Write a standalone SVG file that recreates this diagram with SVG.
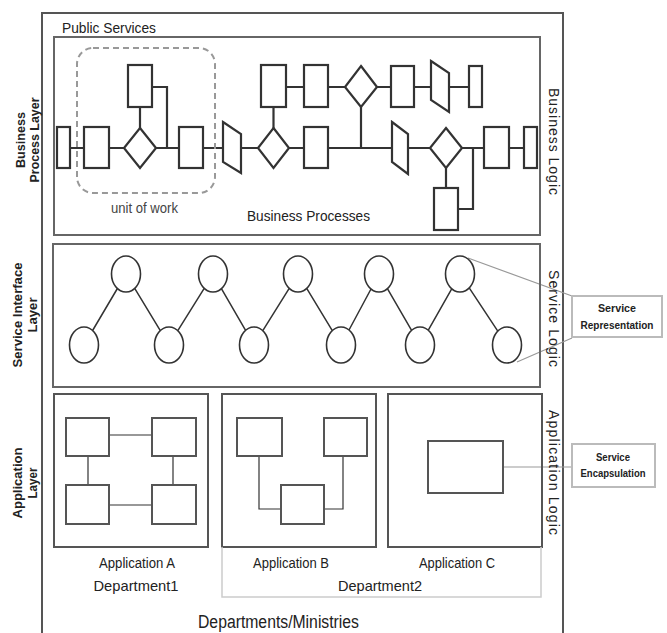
<svg xmlns="http://www.w3.org/2000/svg" width="667" height="633" viewBox="0 0 667 633">
<style>
text{font-family:"Liberation Sans",Arial,sans-serif;fill:#222}
.frame{fill:none;stroke:#555;stroke-width:2}
.box{fill:none;stroke:#666;stroke-width:2}
.bp{fill:#fff;stroke:#333;stroke-width:2.2}
.bl{fill:none;stroke:#333;stroke-width:2.2}
.ci{fill:#fff;stroke:#333;stroke-width:1.6}
.cl{fill:none;stroke:#333;stroke-width:1.5}
.cont{fill:none;stroke:#555;stroke-width:2}
.ar{fill:#fff;stroke:#555;stroke-width:2}
.al{fill:none;stroke:#333;stroke-width:1.2}
.call{fill:#fff;stroke:#bbb;stroke-width:2}
.cline{fill:none;stroke:#999;stroke-width:1.2}
.lbl{font-size:12.5px;font-weight:bold}
.side{font-size:14px}
.cb{font-size:11px;font-weight:bold}
</style>
<rect width="667" height="633" fill="#fff"/>
<g id="outer">
<rect class="frame" x="42" y="13" width="521" height="640"/>
<text x="62" y="33" font-size="15" textLength="94" lengthAdjust="spacingAndGlyphs">Public Services</text>
</g>
<g id="connectors">
<path class="bl" d="M70,148 H524 M286,87 H469 M140,107 V128 M152,87 H167 V148 M273.5,107 V128 M361,107 V148 M446,168 V188 M462,148 H473 V209 H458"/>
<path class="cl" d="M92.6,330.5 L117.4,288.5 M134.7,288.4 L160.3,330.6 M177.8,330.7 L204.2,288.3 M221.4,288.6 L245.6,330.4 M262.8,330.7 L289.2,288.3 M306.7,288.4 L332.3,330.6 M349,330 L371,289 M387.4,288.6 L411.6,330.4 M428.3,330.2 L451.7,288.8 M469.2,287.9 L497.8,331.1"/>
<path class="al" d="M109,435 H152 M109,505 H152 M88,456 V485 M173,456 V485 M259,456 V509 H281 M343,456 V509 H324"/>
<path class="cline" d="M468,258 L572,296 M517,362 L572,338 M503,467 H572"/>
</g>
<g id="business-process-layer">
<rect class="box" x="54" y="37" width="486" height="198"/>
<rect x="77" y="48" width="138" height="145" rx="16" fill="none" stroke="#999" stroke-width="2" stroke-dasharray="6 4"/>
<text x="144.5" y="213" font-size="14" text-anchor="middle" style="fill:#444" textLength="67" lengthAdjust="spacingAndGlyphs">unit of work</text>
<text x="247" y="221" font-size="15" textLength="123" lengthAdjust="spacingAndGlyphs">Business Processes</text>
<text class="lbl" transform="translate(25,140) rotate(-90)" text-anchor="middle" textLength="56" lengthAdjust="spacingAndGlyphs">Business</text>
<text class="lbl" transform="translate(39,140) rotate(-90)" text-anchor="middle" textLength="85" lengthAdjust="spacingAndGlyphs">Process Layer</text>
<text class="side" transform="translate(549,88) rotate(90)" textLength="107" lengthAdjust="spacing">Business  Logic</text>
</g>
<g id="bp-shapes">
<rect class="bp" x="57" y="127" width="13" height="41"/>
<rect class="bp" x="84" y="127" width="25" height="41"/>
<polygon class="bp" points="140,128 156,148 140,168 124,148"/>
<rect class="bp" x="128" y="65" width="24" height="42"/>
<rect class="bp" x="179" y="127" width="24" height="41"/>
<polygon class="bp" points="223,122 241,134 241,173 223,162"/>
<polygon class="bp" points="273.5,128 289,148 273.5,168 258,148"/>
<rect class="bp" x="261" y="65" width="25" height="42"/>
<rect class="bp" x="304" y="65" width="24" height="42"/>
<rect class="bp" x="304" y="127" width="24" height="41"/>
<polygon class="bp" points="361,66 377,87 361,107 345,87"/>
<rect class="bp" x="391" y="66" width="23" height="41"/>
<polygon class="bp" points="431,61 449,73 449,112 431,100"/>
<rect class="bp" x="469" y="66" width="13" height="41"/>
<polygon class="bp" points="392,122 408,134 408,174 392,162"/>
<polygon class="bp" points="446,128 462,148 446,168 430,148"/>
<rect class="bp" x="434" y="188" width="24" height="42"/>
<rect class="bp" x="484" y="127" width="25" height="41"/>
<rect class="bp" x="524" y="127" width="13" height="41"/>
</g>
<g id="service-interface-layer">
<rect class="box" x="53" y="244" width="487" height="143"/>
<ellipse class="ci" cx="126" cy="274" rx="14.5" ry="18"/>
<ellipse class="ci" cx="213" cy="274" rx="14.5" ry="18"/>
<ellipse class="ci" cx="298" cy="274" rx="14.5" ry="18"/>
<ellipse class="ci" cx="379" cy="274" rx="14.5" ry="18"/>
<ellipse class="ci" cx="460" cy="274" rx="14.5" ry="18"/>
<ellipse class="ci" cx="84" cy="345" rx="14.5" ry="18"/>
<ellipse class="ci" cx="169" cy="345" rx="14.5" ry="18"/>
<ellipse class="ci" cx="254" cy="345" rx="14.5" ry="18"/>
<ellipse class="ci" cx="341" cy="345" rx="14.5" ry="18"/>
<ellipse class="ci" cx="420" cy="345" rx="14.5" ry="18"/>
<ellipse class="ci" cx="507" cy="345" rx="14.5" ry="18"/>
<text class="lbl" transform="translate(22,315) rotate(-90)" text-anchor="middle" textLength="105" lengthAdjust="spacingAndGlyphs">Service Interface</text>
<text class="lbl" transform="translate(37,315) rotate(-90)" text-anchor="middle" textLength="35" lengthAdjust="spacingAndGlyphs">Layer</text>
<text class="side" transform="translate(549,270) rotate(90)" textLength="97" lengthAdjust="spacing">Service  Logic</text>
</g>
<g id="service-representation">
<rect class="call" x="572" y="296" width="90" height="41"/>
<text class="cb" x="617" y="312" text-anchor="middle" textLength="38" lengthAdjust="spacingAndGlyphs">Service</text>
<text class="cb" x="617" y="329" text-anchor="middle" textLength="73" lengthAdjust="spacingAndGlyphs">Representation</text>
</g>
<g id="application-a">
<rect class="cont" x="54" y="394" width="154" height="153"/>
<rect class="ar" x="66" y="418" width="43" height="38"/>
<rect class="ar" x="152" y="418" width="44" height="38"/>
<rect class="ar" x="66" y="485" width="43" height="39"/>
<rect class="ar" x="152" y="485" width="44" height="39"/>
<text x="137" y="568" font-size="14" text-anchor="middle" textLength="76" lengthAdjust="spacingAndGlyphs">Application A</text>
<text x="136" y="591" font-size="15" text-anchor="middle" textLength="85" lengthAdjust="spacingAndGlyphs">Department1</text>
</g>
<g id="application-b">
<rect class="cont" x="222" y="394" width="154" height="153"/>
<rect class="ar" x="237" y="418" width="45" height="38"/>
<rect class="ar" x="324" y="418" width="43" height="38"/>
<rect class="ar" x="281" y="485" width="43" height="39"/>
<text x="291" y="568" font-size="14" text-anchor="middle" textLength="76" lengthAdjust="spacingAndGlyphs">Application B</text>
</g>
<g id="application-c">
<rect class="cont" x="388" y="394" width="154" height="153"/>
<rect class="ar" x="428" y="441" width="75" height="52"/>
<text x="457" y="568" font-size="14" text-anchor="middle" textLength="76" lengthAdjust="spacingAndGlyphs">Application C</text>
</g>
<g id="department2">
<path d="M222,547 V597 H541 V547" fill="none" stroke="#ccc" stroke-width="1.5"/>
<text x="380" y="591" font-size="15" text-anchor="middle" textLength="84" lengthAdjust="spacingAndGlyphs">Department2</text>
</g>
<g id="application-labels">
<text class="lbl" transform="translate(22,483) rotate(-90)" text-anchor="middle" textLength="71" lengthAdjust="spacingAndGlyphs">Application</text>
<text class="lbl" transform="translate(37,483) rotate(-90)" text-anchor="middle" textLength="31" lengthAdjust="spacingAndGlyphs">Layer</text>
<text class="side" transform="translate(549,410) rotate(90)" textLength="125" lengthAdjust="spacing">Application  Logic</text>
</g>
<g id="service-encapsulation">
<rect class="call" x="572" y="444" width="83" height="43"/>
<text class="cb" x="613" y="461" text-anchor="middle" textLength="34" lengthAdjust="spacingAndGlyphs">Service</text>
<text class="cb" x="613" y="477" text-anchor="middle" textLength="65" lengthAdjust="spacingAndGlyphs">Encapsulation</text>
</g>
<text x="198" y="628" font-size="18" textLength="161" lengthAdjust="spacingAndGlyphs">Departments/Ministries</text>
</svg>
